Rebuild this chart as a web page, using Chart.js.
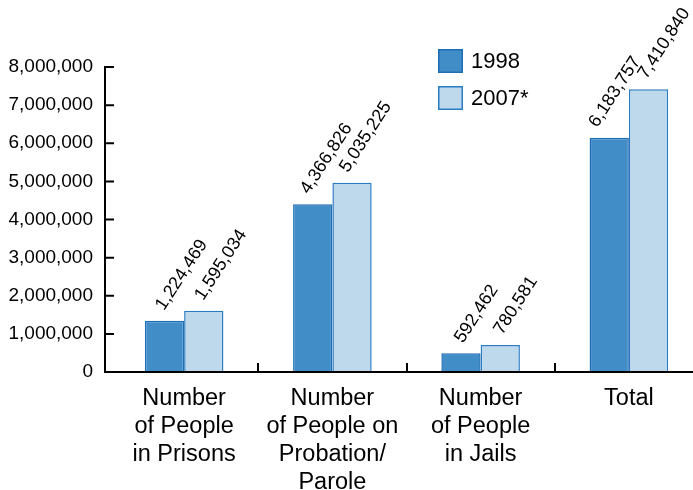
<!DOCTYPE html>
<html>
<head>
<meta charset="utf-8">
<script src="https://cdn.jsdelivr.net/npm/chart.js@4.4.1/dist/chart.umd.min.js"></script>
<style>
  html, body { margin: 0; padding: 0; background: #fff; overflow: hidden; }
  #wrap { position: relative; width: 713px; height: 490px; }
</style>
</head>
<body>
<div id="wrap"><canvas id="c"></canvas></div>
<script>
// ---- data ----
const categories = [
  ["Number", "of People", "in Prisons"],
  ["Number", "of People on", "Probation/", "Parole"],
  ["Number", "of People", "in Jails"],
  ["Total"]
];
const seriesNames = ["1998", "2007*"];
const values1998 = [1346000, 4400000, 490000, 6146000];
const values2007 = [1608000, 4965000, 708000, 7415000];
const valueLabels1998 = ["1,224,469", "4,366,826", "592,462", "6,183,757"];
const valueLabels2007 = ["1,595,034", "5,035,225", "780,581", "7,410,840"];
const yMin = 0, yMax = 8000000, yStep = 1000000;

const FONT = "'Liberation Sans', Arial, Helvetica, sans-serif";
const fill1998 = '#408dc7', border1998 = '#1f6db3';
const fill2007 = '#bed9ec', border2007 = '#2a7bc2';

const axesPlugin = {
  id: 'customAxes',
  afterDatasetsDraw(chart) {
    const { ctx, chartArea, scales: { x, y } } = chart;
    const ax = chartArea.left - 5;
    const y0 = y.getPixelForValue(0);
    ctx.save();
    ctx.strokeStyle = '#000';
    ctx.lineWidth = 2;
    ctx.beginPath();
    ctx.moveTo(ax, y.getPixelForValue(yMax) - 1);
    ctx.lineTo(ax, y0);
    ctx.lineTo(chart.width, y0);
    y.ticks.forEach(t => {
      const py = y.getPixelForValue(t.value);
      ctx.moveTo(ax, py);
      ctx.lineTo(ax + 9, py);
    });
    for (let i = 0; i < categories.length - 1; i++) {
      const bx = Math.round((x.getPixelForValue(i) + x.getPixelForValue(i + 1)) / 2);
      ctx.moveTo(bx, y0);
      ctx.lineTo(bx, y0 - 9);
    }
    ctx.stroke();
    ctx.restore();
  }
};

const valueLabelPlugin = {
  id: 'valueLabels',
  afterDatasetsDraw(chart, args, opts) {
    const { ctx } = chart;
    const texts = [valueLabels1998, valueLabels2007];
    ctx.save();
    ctx.fillStyle = '#000';
    ctx.font = '18px ' + FONT;
    ctx.textAlign = 'left';
    ctx.textBaseline = 'alphabetic';
    chart.data.datasets.forEach((ds, di) => {
      const meta = chart.getDatasetMeta(di);
      meta.data.forEach((bar, i) => {
        ctx.save();
        ctx.translate(bar.x + opts.shiftX[di][i], bar.y + opts.shiftY);
        ctx.rotate(-opts.angle * Math.PI / 180);
        ctx.fillText(texts[di][i], 0, 0);
        ctx.restore();
      });
    });
    ctx.restore();
  }
};

const legendPlugin = {
  id: 'customLegend',
  afterDraw(chart) {
    const { ctx } = chart;
    const x0 = 438, rows = [49, 86], size = 24;
    ctx.save();
    chart.data.datasets.forEach((ds, i) => {
      const top = rows[i];
      ctx.fillStyle = ds.backgroundColor;
      ctx.fillRect(x0, top, size + 1, size);
      ctx.strokeStyle = ds.borderColor;
      ctx.lineWidth = 1.5;
      ctx.strokeRect(x0 + 0.75, top + 0.75, size - 0.5, size - 1.5);
      ctx.fillStyle = '#000';
      ctx.font = '22px ' + FONT;
      ctx.textAlign = 'left';
      ctx.textBaseline = 'middle';
      ctx.fillText(ds.label, x0 + 33, top + size / 2 + 1);
    });
    ctx.restore();
  }
};

new Chart(document.getElementById('c'), {
  type: 'bar',
  data: {
    labels: categories,
    datasets: [
      { label: seriesNames[0], data: values1998, backgroundColor: fill1998, borderColor: border1998, borderWidth: 1.5 },
      { label: seriesNames[1], data: values2007, backgroundColor: fill2007, borderColor: border2007, borderWidth: 1.5 }
    ]
  },
  options: {
    responsive: true,
    maintainAspectRatio: false,
    animation: false,
    categoryPercentage: 0.53,
    barPercentage: 1.0,
    layout: { padding: { top: 67, right: 10, bottom: 0, left: 0 } },
    plugins: {
      legend: { display: false }, tooltip: { enabled: false }, title: { display: false },
      valueLabels: { angle: 57, shiftX: [[-0.5, -4, 2, -12], [-0.5, -4, 2, -2]], shiftY: -9.5 }
    },
    scales: {
      x: {
        type: 'category',
        offset: true,
        grid: { display: false, drawTicks: false },
        border: { display: false },
        ticks: {
          color: '#000', padding: 13, maxRotation: 0, minRotation: 0, autoSkip: false,
          font: { family: FONT, size: 23.5, lineHeight: 1.183 }
        },
        afterFit(s) { s.height = 118; }
      },
      y: {
        min: yMin, max: yMax,
        grid: { display: false, drawTicks: false },
        border: { display: false },
        ticks: {
          stepSize: yStep, color: '#000', padding: 17,
          font: { family: FONT, size: 19 },
          callback: v => Number(v).toLocaleString('en-US')
        },
        afterFit(s) { s.width = 110; }
      }
    }
  },
  plugins: [axesPlugin, valueLabelPlugin, legendPlugin]
});
</script>
</body>
</html>
